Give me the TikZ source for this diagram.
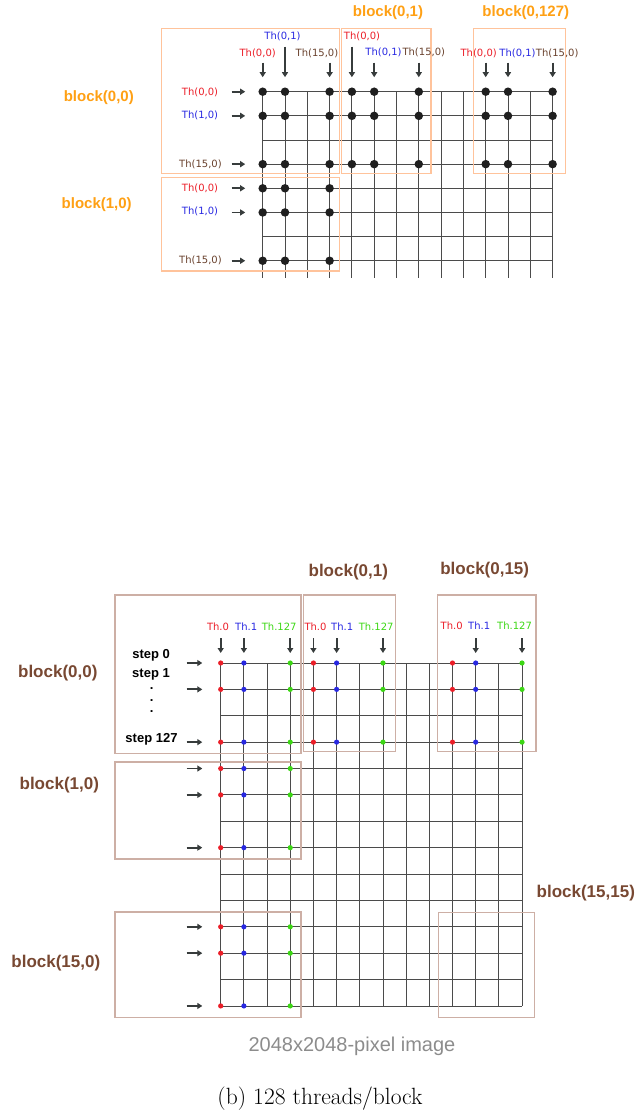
\documentclass[tikz,border=0pt]{standalone}
\usepackage{fontspec}
\newfontfamily\arialfont{Liberation Sans}
\newfontfamily\verdfont{DejaVu Sans}
\usetikzlibrary{arrows.meta}
\definecolor{BlockOrange}{RGB}{255,160,20}
\definecolor{BoxOrange}{RGB}{255,195,155}
\definecolor{BlockBrown}{RGB}{120,72,50}
\definecolor{BoxBrown}{RGB}{205,175,165}
\definecolor{ThRed}{RGB}{235,30,40}
\definecolor{ThBlue}{RGB}{40,40,225}
\definecolor{ThBrown}{RGB}{105,65,45}
\definecolor{ThGreen}{RGB}{60,215,20}
\definecolor{GridGray}{RGB}{75,75,75}
\definecolor{ArrowGray}{RGB}{55,60,60}
\definecolor{CapGray}{RGB}{140,140,140}
\tikzset{
  gridline/.style={draw=GridGray, line width=0.9pt},
  boxA/.style={draw=BoxOrange, line width=1.5pt},
  boxB/.style={draw=BoxBrown, line width=1.2pt},
  dotA/.style={circle, fill=black!88, inner sep=0pt, minimum size=8.5pt},
  dotB/.style={circle, inner sep=0pt, minimum size=5.2pt},
  blocklabelA/.style={font=\arialfont\bfseries\fontsize{15}{18}\selectfont, text=BlockOrange},
  blocklabelB/.style={font=\arialfont\bfseries\fontsize{17}{20}\selectfont, text=BlockBrown},
  thlabel/.style={font=\verdfont\fontsize{10}{12}\selectfont, inner sep=0pt},
  steplabel/.style={font=\arialfont\bfseries\fontsize{13}{15}\selectfont, inner sep=0pt},
  tharrow/.style={-{Triangle[length=5pt,width=6pt]}, line width=1.8pt, draw=ArrowGray}
}

\begin{document}
\begin{tikzpicture}[x=1pt, y=-1pt]
\useasboundingbox (0,0) rectangle (637,1113);
% (a) grid of 16x16 threads per block
\foreach \i in {0,...,13}
  \draw[gridline] ({262.7+22.3*\i},91.7) -- ({262.7+22.3*\i},278);
\foreach \j in {0,...,7}
  \draw[gridline] (262.7,{91.7+24.15*\j}) -- (552.6,{91.7+24.15*\j});
\draw[boxA] (161.7,28.3) rectangle (339.3,173.3);
\draw[boxA] (341.7,28.3) rectangle (431,173.3);
\draw[boxA] (473.3,28.3) rectangle (565.3,173.3);
\draw[boxA] (161.7,177.7) rectangle (339.3,271);
\foreach \r in {0,1,3}
  \foreach \c in {0,1,3,4,5,7,10,11,13}
    \node[dotA] (a-\r-\c) at ({262.7+22.3*\c},{91.7+24.15*\r}) {};
\foreach \r in {4,5,7}
  \foreach \c in {0,1,3}
    \node[dotA] (a-\r-\c) at ({262.7+22.3*\c},{91.7+24.15*\r}) {};

\node[blocklabelA] (ablk00) at (98.8,97.5) {block(0,0)};
\node[blocklabelA] (ablk10) at (96.7,205) {block(1,0)};
\node[blocklabelA] (ablk01) at (388,12.5) {block(0,1)};
\node[blocklabelA] (ablk0last) at (525.8,12.5) {block(0,127)};

\node[thlabel, text=ThRed] (acol0) at (257.7,53.3) {Th(0,0)};
\node[thlabel, text=ThBlue] (acol1) at (282.5,36.2) {Th(0,1)};
\node[thlabel, text=ThBrown] (acol3) at (317,53.3) {Th(15,0)};
\node[thlabel, text=ThRed] (acol4) at (362,36.2) {Th(0,0)};
\node[thlabel, text=ThBlue] (acol5) at (383.5,52.8) {Th(0,1)};
\node[thlabel, text=ThBrown] (acol7) at (423.8,52.8) {Th(15,0)};
\node[thlabel, text=ThRed] (acol10) at (478.7,53.3) {Th(0,0)};
\node[thlabel, text=ThBlue] (acol11) at (517.5,53.3) {Th(0,1)};
\node[thlabel, text=ThBrown] (acol13) at (557.2,53.3) {Th(15,0)};

\node[thlabel, text=ThRed] (arow0) at (200,92.8) {Th(0,0)};
\node[thlabel, text=ThBlue] (arow1) at (200,115) {Th(1,0)};
\node[thlabel, text=ThBrown] (arow3) at (200.5,164) {Th(15,0)};
\node[thlabel, text=ThRed] (arow4) at (200,188) {Th(0,0)};
\node[thlabel, text=ThBlue] (arow5) at (200,211.7) {Th(1,0)};
\node[thlabel, text=ThBrown] (arow7) at (200.5,260) {Th(15,0)};

\foreach \c in {0,3,5,7,10,11,13}
  \draw[tharrow] ([yshift=29]a-0-\c.center) -- ([yshift=14.5]a-0-\c.center);
\foreach \c in {1,4}
  \draw[tharrow] ([yshift=45]a-0-\c.center) -- ([yshift=14.5]a-0-\c.center);
\foreach \r in {0,1,3,4,5,7}
  \draw[tharrow] ([xshift=-31]a-\r-0.center) -- ([xshift=-17.5]a-\r-0.center);

% (b) grid of 128 threads per block
\foreach \i in {0,...,13}
  \draw[gridline] ({220.7+23.18*\i},663) -- ({220.7+23.18*\i},1006);
\foreach \j in {0,...,13}
  \draw[gridline] (220.7,{663+26.38*\j}) -- (522,{663+26.38*\j});
\draw[boxB] (115,595) rectangle (301,753.3);
\draw[boxB] (303.3,595) rectangle (395.3,751.7);
\draw[boxB] (437.3,595) rectangle (536,751.7);
\draw[boxB] (115,762) rectangle (301,859);
\draw[boxB] (115,912) rectangle (301,1017.7);
\draw[boxB] (438.3,912.3) rectangle (534.3,1017.3);
\foreach \r in {0,1,3}
  \foreach \c/\col in {0/ThRed,1/ThBlue,3/ThGreen,4/ThRed,5/ThBlue,7/ThGreen,10/ThRed,11/ThBlue,13/ThGreen}
    \node[dotB, fill=\col] (b-\r-\c) at ({220.7+23.18*\c},{663+26.38*\r}) {};
\foreach \r in {4,5,7,10,11,13}
  \foreach \c/\col in {0/ThRed,1/ThBlue,3/ThGreen}
    \node[dotB, fill=\col] (b-\r-\c) at ({220.7+23.18*\c},{663+26.38*\r}) {};

\node[blocklabelB] (bblk00) at (57.8,673.3) {block(0,0)};
\node[blocklabelB] (bblk10) at (59.3,785) {block(1,0)};
\node[blocklabelB] (bblk150) at (55.8,963.3) {block(15,0)};
\node[blocklabelB] (bblk01) at (348.3,571.7) {block(0,1)};
\node[blocklabelB] (bblk015) at (484.7,570) {block(0,15)};
\node[blocklabelB] (bblk1515) at (585.8,893.3) {block(15,15)};

\node[thlabel, text=ThRed] (bcol0) at (218,627) {Th.0};
\node[thlabel, text=ThBlue] (bcol1) at (246.2,627) {Th.1};
\node[thlabel, text=ThGreen] (bcol3) at (279.2,627) {Th.127};
\node[thlabel, text=ThRed] (bcol4) at (315.5,627) {Th.0};
\node[thlabel, text=ThBlue] (bcol5) at (342.2,627) {Th.1};
\node[thlabel, text=ThGreen] (bcol7) at (376.2,627) {Th.127};
\node[thlabel, text=ThRed] (bcol10) at (451.7,626) {Th.0};
\node[thlabel, text=ThBlue] (bcol11) at (479.2,626) {Th.1};
\node[thlabel, text=ThGreen] (bcol13) at (514.5,626) {Th.127};

\node[steplabel] (step0) at (151.2,655.8) {step 0};
\node[steplabel] (step1) at (151,674.2) {step 1};
\node[steplabel] (vdots1) at (151.7,689) {.};
\node[steplabel] (vdots2) at (151.7,700.7) {.};
\node[steplabel] (vdots3) at (151.7,712) {.};
\node[steplabel] (steplast) at (151.5,739.8) {step 127};

\foreach \c in {0,1,3,4,5,7,11,13}
  \draw[tharrow] ([yshift=25]b-0-\c.center) -- ([yshift=10]b-0-\c.center);
\foreach \r in {0,1,3,4,5,7,10,11,13}
  \draw[tharrow] ([xshift=-34]b-\r-0.center) -- ([xshift=-18.4]b-\r-0.center);

\node[font=\arialfont\fontsize{20}{24}\selectfont, text=CapGray] (imgsize) at (352,1046.5) {2048x2048-pixel image};
\node[font=\fontsize{23.5}{28}\selectfont] (caption) at (320,1099) {(b) 128 threads/block};
\end{tikzpicture}
\end{document}
